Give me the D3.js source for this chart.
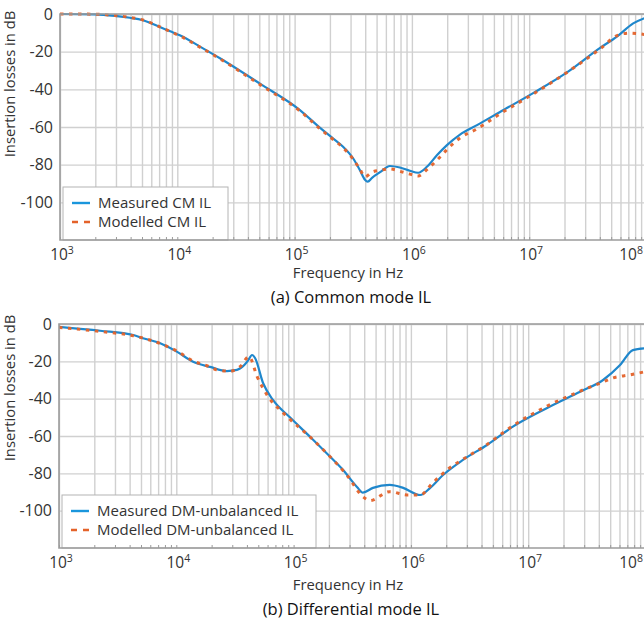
<!DOCTYPE html>
<html>
<head>
<meta charset="utf-8">
<script src="https://cdn.jsdelivr.net/npm/d3@7"></script>
<style>
body { margin: 0; background: #fff; }
svg { display: block; font-family: "Open Sans", "Noto Sans", sans-serif; }
.grid line { stroke: #d0d0d0; stroke-width: 1.4; }
.grid path { display: none; }
.ticks path { display: none; }
.ticks line { stroke: #9a9a9a; stroke-width: 1; }
</style>
</head>
<body>
<script>
// decades shown on the x axis, y ticks in dB
var xDecades = [1e3, 1e4, 1e5, 1e6, 1e7, 1e8];
var yTicks   = [0, -20, -40, -60, -80, -100];

// (a) common mode: measured
var cmMeasFreq = [1e3, 1.99e3, 2.94e3, 3.95e3, 5.1e3, 7.1e3, 8.7e3, 1.05e4, 1.56e4, 2.31e4, 5.07e4, 1.11e5, 1.65e5, 2.12e5, 2.59e5, 3.15e5, 3.61e5, 3.98e5, 4.2e5, 4.57e5, 5.35e5, 6.5e5, 7.9e5, 9.6e5, 1.13e6, 1.35e6, 1.64e6, 1.99e6, 2.57e6, 3.59e6, 5.64e6, 1.08e7, 2.1e7, 4.02e7, 5.6e7, 7.7e7, 1.0e8];
var cmMeasDb   = [0, -0.2, -1, -2, -3.3, -6.9, -9.2, -11.3, -17.3, -23.5, -37, -51, -60.5, -66, -70.5, -76.6, -83, -88, -89, -87, -84, -80.7, -81.5, -83.2, -84.3, -81, -74.9, -69.6, -64, -59, -52, -42, -31, -18, -12, -5, -1.8];
// (a) common mode: modelled
var cmModFreq = [1e3, 1.99e3, 2.94e3, 3.95e3, 5.1e3, 7.1e3, 8.7e3, 1.05e4, 1.56e4, 2.31e4, 5.07e4, 1.11e5, 1.65e5, 2.12e5, 2.59e5, 3.15e5, 3.61e5, 3.98e5, 4.57e5, 5.35e5, 6.5e5, 7.9e5, 9.6e5, 1.13e6, 1.35e6, 1.64e6, 1.99e6, 2.57e6, 3.59e6, 5.64e6, 1.08e7, 2.1e7, 4.02e7, 5.6e7, 7.0e7, 1.0e8];
var cmModDb   = [0, -0.1, -0.8, -1.8, -3.2, -6.8, -9.3, -11.6, -17.6, -23.8, -37.5, -51.5, -61, -66.5, -71, -77, -82.5, -86.5, -84, -83, -82.3, -83.5, -85, -86, -82.5, -77.5, -72, -65.8, -61, -53, -42.5, -31, -18.5, -11.5, -10.2, -11];

// (b) differential mode: measured
var dmMeasFreq = [1e3, 2.24e3, 4.3e3, 5.2e3, 7.3e3, 1.01e4, 1.39e4, 1.94e4, 2.7e4, 3.29e4, 3.8e4, 4.1e4, 4.42e4, 4.69e4, 5.49e4, 6.67e4, 9.3e4, 1.38e5, 2.04e5, 2.64e5, 3.47e5, 3.9e5, 4.75e5, 6.6e5, 8.6e5, 1.2e6, 1.46e6, 1.88e6, 2.78e6, 4.46e6, 7.4e6, 1.45e7, 2.77e7, 4.35e7, 6.07e7, 7.8e7, 1.0e8];
var dmMeasDb   = [-1.5, -3.6, -5.9, -7.6, -10.3, -14.8, -20.2, -23, -25.2, -24.6, -22, -19.5, -16.6, -18.2, -31.6, -40.7, -50, -60.4, -71, -78.2, -87.3, -90.3, -87.8, -86.2, -87.8, -91.6, -87.8, -80.9, -72.8, -64.8, -55, -45, -36.3, -30, -22, -14, -13];
// (b) differential mode: modelled
var dmModFreq = [1e3, 2.24e3, 4.3e3, 7.3e3, 1.01e4, 1.39e4, 1.94e4, 2.22e4, 2.87e4, 3.49e4, 4.17e4, 4.88e4, 5.93e4, 8.12e4, 1.38e5, 2.04e5, 2.85e5, 3.9e5, 4.48e5, 6.6e5, 9.27e5, 1.2e6, 1.54e6, 2.15e6, 2.78e6, 4.46e6, 7.4e6, 1.45e7, 2.77e7, 4.35e7, 5.2e7, 7.27e7, 1.0e8];
var dmModDb   = [-1.8, -4, -6.3, -10.5, -14.5, -19.8, -23, -24.6, -25.3, -22.9, -17.5, -28, -38, -47.5, -60.5, -71, -81, -92.5, -94.6, -89.8, -91.6, -91.6, -85, -77, -72.5, -64.5, -54.5, -44, -36, -31, -29, -27.3, -25.5];

var colMeas = "#1f87cc";
var colMod  = "#e4622a";

var svg = d3.select("body").append("svg")
    .attr("width", 644)
    .attr("height", 621);

function zip(fs, ds) {
    return fs.map(function(f, i) { return [f, ds[i]]; });
}

function draw_panel(p)
{
    var x = d3.scaleLog().domain([1e3, 1e8]).range([p.left, p.left + 586.5]);
    var y = d3.scaleLinear().domain([-120, 0]).range([p.bottom, p.top]);
    var g = svg.append("g");

    // minor grid, all 1..9 x decade
    var minor = [];
    xDecades.forEach(function(d) {
        for (var k = 1; k < 10; k++) { if (d * k <= 1e8) minor.push(d * k); }
    });
    g.append("g").attr("class", "grid")
        .attr("transform", "translate(0," + p.bottom + ")")
        .call(d3.axisBottom(x).tickValues(minor).tickFormat("").tickSize(-(p.bottom - p.top)));
    g.append("g").attr("class", "grid")
        .attr("transform", "translate(" + p.left + ",0)")
        .call(d3.axisLeft(y).tickValues(yTicks).tickFormat("").tickSize(-600));

    // curves
    var clipId = "clip" + p.id;
    svg.append("clipPath").attr("id", clipId).append("rect")
        .attr("x", p.left).attr("y", p.top - 3)
        .attr("width", 644 - p.left).attr("height", p.bottom - p.top + 3);
    var line = d3.line()
        .x(function(d) { return x(d[0]); })
        .y(function(d) { return y(d[1]); })
        .curve(d3.curveMonotoneX);
    g.append("path").datum(zip(p.measF, p.measD))
        .attr("clip-path", "url(#" + clipId + ")")
        .attr("fill", "none").attr("stroke", colMeas).attr("stroke-width", 2.2)
        .attr("d", line);
    g.append("path").datum(zip(p.modF, p.modD))
        .attr("clip-path", "url(#" + clipId + ")")
        .attr("fill", "none").attr("stroke", colMod).attr("stroke-width", 3)
        .attr("stroke-dasharray", "3.5,5.5").attr("stroke-opacity", 0.95)
        .attr("d", line);

    // legend
    var lg = g.append("g");
    lg.append("rect")
        .attr("x", p.left + 3).attr("y", p.bottom - 53)
        .attr("width", p.legW).attr("height", 53)
        .attr("fill", "#fff").attr("stroke", "#b4b4b4").attr("stroke-width", 1);
    [[p.measLabel, "#1a96dc", null, p.bottom - 37], [p.modLabel, colMod, "6,6", p.bottom - 18]].forEach(function(e) {
        lg.append("line")
            .attr("x1", p.left + 12).attr("x2", p.left + 30)
            .attr("y1", e[3]).attr("y2", e[3])
            .attr("stroke", e[1]).attr("stroke-width", 2.4)
            .attr("stroke-dasharray", e[2]);
        lg.append("text")
            .attr("x", p.left + 38).attr("y", e[3]).attr("dy", "0.35em")
            .attr("font-size", 15).attr("fill", "#333")
            .text(e[0]);
    });

    // inward ticks on bottom axis
    g.append("g").attr("class", "ticks")
        .attr("transform", "translate(0," + p.bottom + ")")
        .call(d3.axisBottom(x).tickValues(minor).tickFormat("").tickSize(-3));

    // frame
    g.append("path")
        .attr("d", "M644," + p.top + "H" + p.left + "V" + p.bottom + "H644")
        .attr("fill", "none").attr("stroke", "#9c9c9c").attr("stroke-width", 1.6);

    // y tick labels
    yTicks.forEach(function(v) {
        g.append("text")
            .attr("x", p.left - 7).attr("y", y(v)).attr("dy", "0.36em")
            .attr("text-anchor", "end").attr("font-size", 16).attr("fill", "#333")
            .text(v);
    });

    // x tick labels 10^n
    xDecades.forEach(function(v, i) {
        var last = (i == xDecades.length - 1);
        var t = g.append("text")
            .attr("x", last ? 643 : x(v) + 2).attr("y", p.bottom + 20)
            .attr("text-anchor", last ? "end" : "middle")
            .attr("font-size", 15.5).attr("fill", "#333");
        t.append("tspan").text("10");
        t.append("tspan").attr("dy", -6).attr("font-size", 10.5).text(Math.round(Math.log10(v)));
    });

    // axis labels and caption
    g.append("text")
        .attr("transform", "translate(15," + p.ylabY + ") rotate(-90)")
        .attr("text-anchor", "middle").attr("font-size", 14.8).attr("fill", "#333")
        .text("Insertion losses in dB");
    g.append("text")
        .attr("x", 348).attr("y", p.xlabY)
        .attr("text-anchor", "middle").attr("font-size", 14.8).attr("fill", "#333")
        .text("Frequency in Hz");
    g.append("text")
        .attr("x", 351).attr("y", p.capY)
        .attr("text-anchor", "middle").attr("font-size", 16.5).attr("fill", "#111")
        .attr("font-weight", 500)
        .text(p.caption);
}

draw_panel({
    id: "a", left: 60, top: 14, bottom: 240,
    measF: cmMeasFreq, measD: cmMeasDb, modF: cmModFreq, modD: cmModDb,
    measLabel: "Measured CM IL", modLabel: "Modelled CM IL", legW: 165,
    ylabY: 84, xlabY: 278, capY: 303, caption: "(a) Common mode IL"
});
draw_panel({
    id: "b", left: 59, top: 324, bottom: 548,
    measF: dmMeasFreq, measD: dmMeasDb, modF: dmModFreq, modD: dmModDb,
    measLabel: "Measured DM-unbalanced IL", modLabel: "Modelled DM-unbalanced IL", legW: 254,
    ylabY: 388, xlabY: 590, capY: 615, caption: "(b) Differential mode IL"
});
</script>
</body>
</html>
